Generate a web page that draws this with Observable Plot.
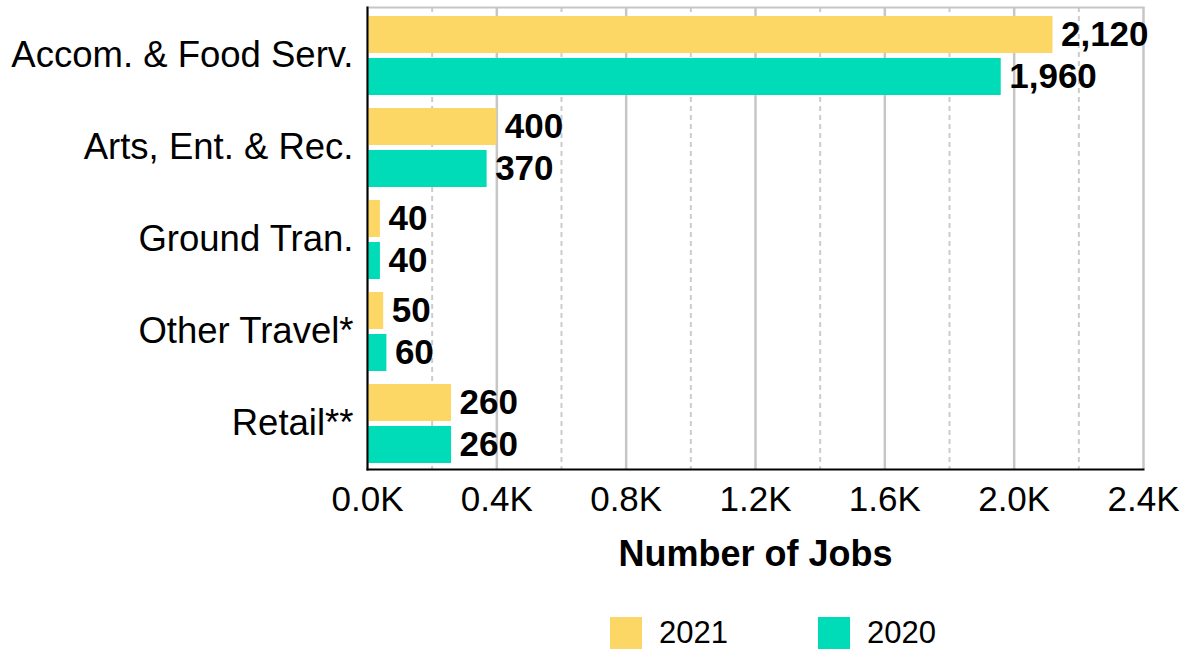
<!DOCTYPE html>
<html>
<head>
<meta charset="utf-8">
<script src="https://cdn.jsdelivr.net/npm/d3@7"></script>
<script src="https://cdn.jsdelivr.net/npm/@observablehq/plot@0.6"></script>
<style>
  body { margin: 0; background: #fff; font-family: "Liberation Sans", Arial, sans-serif; }
  #chart svg { display: block; }
  #legend { display: flex; align-items: center; margin-top: 17px; padding-left: 610px; height: 32px; }
  .item { display: flex; align-items: center; margin-right: 90px; }
  .sw { width: 32px; height: 32px; margin-right: 17px; }
  .lab { font-size: 31px; color: #000; line-height: 32px; }
</style>
</head>
<body>
<div id="chart"></div>
<div id="legend"></div>
<script>
const categories = ["Accom. & Food Serv.", "Arts, Ent. & Rec.", "Ground Tran.", "Other Travel*", "Retail**"];
const years = ["2021", "2020"];
const jobs2021 = [2120, 400, 40, 50, 260];
const jobs2020 = [1960, 370, 40, 60, 260];
const xTicks = [0, 400, 800, 1200, 1600, 2000, 2400];
const xMinorTicks = [200, 600, 1000, 1400, 1800, 2200];
const colors = ["#fcd766", "#00dcb8"];
const axisTitle = "Number of Jobs";

const d21 = categories.map((c, i) => ({category: c, year: years[0], value: jobs2021[i]}));
const d20 = categories.map((c, i) => ({category: c, year: years[1], value: jobs2020[i]}));
const fmt = d3.format(",");

const chart = Plot.plot({
  width: 1186,
  height: 600,
  marginLeft: 367,
  marginRight: 43,
  marginTop: 7,
  marginBottom: 131,
  style: {fontFamily: "'Liberation Sans', Arial, sans-serif", background: "white", color: "black"},
  x: {domain: [0, 2400]},
  y: {domain: categories, padding: 0},
  marks: [
    Plot.ruleX(xMinorTicks, {stroke: "#cccccc", strokeWidth: 2, strokeDasharray: "5,4"}),
    Plot.ruleX(xTicks, {stroke: "#c6c6c6", strokeWidth: 2.5}),
    Plot.frame({anchor: "top", stroke: "#c6c6c6", strokeWidth: 2}),
    Plot.barX(d21, {x: "value", y: "category", fill: colors[0], insetTop: 8, insetBottom: 47}),
    Plot.barX(d20, {x: "value", y: "category", fill: colors[1], insetTop: 50, insetBottom: 5}),
    Plot.text(d21, {x: "value", y: "category", text: d => fmt(d.value), dx: 8, dy: -20, textAnchor: "start", fontWeight: "bold", fontSize: 35, fill: "black"}),
    Plot.text(d20, {x: "value", y: "category", text: d => fmt(d.value), dx: 8, dy: 22, textAnchor: "start", fontWeight: "bold", fontSize: 35, fill: "black"}),
    Plot.axisY({tickSize: 0, tickPadding: 14, fontSize: 36.5, label: null, fill: "black", dy: 1}),
    Plot.axisX({ticks: xTicks, tickSize: 0, tickPadding: 17, fontSize: 35, label: null, fill: "black",
      tickFormat: d => (d / 1000).toFixed(1) + "K"}),
    Plot.text([axisTitle], {frameAnchor: "bottom", dy: 96, fontWeight: "bold", fontSize: 36, fill: "black"}),
    Plot.frame({anchor: "left", stroke: "black", strokeWidth: 2}),
    Plot.frame({anchor: "bottom", stroke: "black", strokeWidth: 2})
  ]
});
document.getElementById("chart").appendChild(chart);

const legend = document.getElementById("legend");
years.forEach((y, i) => {
  const item = document.createElement("div");
  item.className = "item";
  const sw = document.createElement("div");
  sw.className = "sw";
  sw.style.background = colors[i];
  const lab = document.createElement("span");
  lab.className = "lab";
  lab.textContent = y;
  item.appendChild(sw);
  item.appendChild(lab);
  legend.appendChild(item);
});
</script>
</body>
</html>
